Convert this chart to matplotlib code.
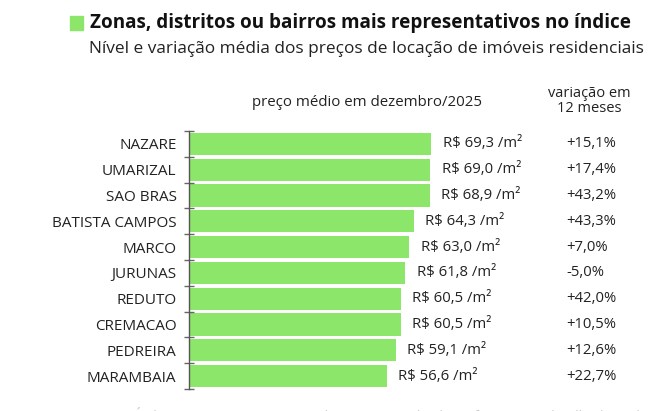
import matplotlib.pyplot as plt
from matplotlib.patches import Rectangle
import matplotlib.transforms as mtransforms

plt.rcParams['font.family'] = ['Open Sans', 'DejaVu Sans']

bairros = ['NAZARE', 'UMARIZAL', 'SAO BRAS', 'BATISTA CAMPOS', 'MARCO',
           'JURUNAS', 'REDUTO', 'CREMACAO', 'PEDREIRA', 'MARAMBAIA']
precos = [69.3, 69.0, 68.9, 64.3, 63.0, 61.8, 60.5, 60.5, 59.1, 56.6]
variacao = ['+15,1%', '+17,4%', '+43,2%', '+43,3%', '+7,0%',
            '-5,0%', '+42,0%', '+10,5%', '+12,6%', '+22,7%']

verde = '#8ce669'
texto = '#222222'

W, H = 650, 411
fig = plt.figure(figsize=(W / 100, H / 100), dpi=100)

# eixo em pixels: linha em x=189, linhas de 131 a 389
ax_left, ax_right = 189, 650
ax_top, ax_bot = 131, 389
ax = fig.add_axes([ax_left / W, (H - ax_bot) / H,
                   (ax_right - ax_left) / W, (ax_bot - ax_top) / H])
px_por_unidade = 3.48
ax.set_xlim(0, (ax_right - ax_left) / px_por_unidade)
ax.set_ylim(len(bairros) - 0.5, -0.5)

y = list(range(len(bairros)))
ax.barh(y, precos, height=0.86, color=verde, left=0.3)

for s in ['top', 'right', 'bottom']:
    ax.spines[s].set_visible(False)
ax.spines['left'].set_color('#555555')
ax.spines['left'].set_linewidth(1)
ax.set_xticks([])

ax.set_yticks([i - 0.5 for i in range(len(bairros) + 1)])
ax.set_yticklabels([])
ax.tick_params(axis='y', which='major', direction='inout', length=7,
               color='#666666', width=1)
ax.set_yticks(y, minor=True)
ax.set_yticklabels(bairros, minor=True, fontsize=11, color=texto)
ax.tick_params(axis='y', which='minor', length=0, pad=9)

for i, p in enumerate(precos):
    lbl = f'R$ {p:.1f} /m²'.replace('.', ',')
    ax.annotate(lbl, (p, i), xytext=(9, 0), textcoords='offset points',
                va='center', ha='left', fontsize=10.7, color=texto)

trans = mtransforms.blended_transform_factory(fig.transFigure, ax.transData)
for i, v in enumerate(variacao):
    ax.text(566 / W, i, v, transform=trans, va='center', ha='left',
            fontsize=10.7, color=texto)

# cabeçalhos
fig.text(367 / W, 1 - 102 / H, 'preço médio em dezembro/2025', ha='center',
         va='center', fontsize=10.8, color=texto)
fig.text(589 / W, 1 - 101 / H, 'variação em\n12 meses', ha='center',
         va='center', fontsize=10.5, color=texto, linespacing=1.05)

# título
fig.patches.append(Rectangle((70 / W, 1 - 30 / H), 13 / W, 14 / H,
                             transform=fig.transFigure, color=verde))
fig.text(90 / W, 1 - 23 / H,
         'Zonas, distritos ou bairros mais representativos no índice',
         ha='left', va='center', fontsize=13.6, fontweight='bold',
         color='#111111')
fig.text(89 / W, 1 - 49 / H,
         'Nível e variação média dos preços de locação de imóveis residenciais',
         ha='left', va='center', fontsize=12.4, color=texto)

# rodapé (cortado na borda, como no original)
fig.text(92 / W, 1 - 407 / H,
         'Fonte: Índice FipeZAP e IBGE. Nota (*): a Fipe não divulga informações detalhadas sobre',
         ha='left', va='top', fontsize=10, color='#c8c8c8')

fig.savefig('out.png', dpi=100)
